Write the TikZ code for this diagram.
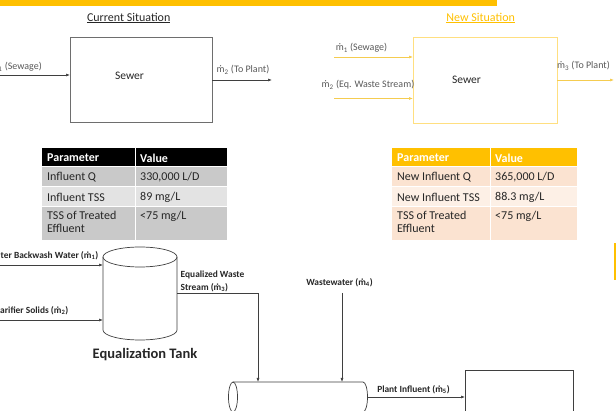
\documentclass[tikz,border=0pt]{standalone}
\usepackage{fontspec}
\setmainfont{Carlito}
\usetikzlibrary{arrows.meta, positioning}
\definecolor{gold}{HTML}{FFC000}
\definecolor{paleline}{HTML}{FFDF80}
\definecolor{palearrow}{HTML}{F5CC50}
\definecolor{linegray}{HTML}{3F3F3F}
\definecolor{boxgray}{HTML}{6E6E6E}
\definecolor{lbltext}{HTML}{595959}
\definecolor{darktext}{HTML}{262626}
\definecolor{celldark}{HTML}{C9C9C9}
\definecolor{celllight}{HTML}{E3E3E3}
\definecolor{peachdark}{HTML}{FBE3D1}
\definecolor{peachlight}{HTML}{FDF0E6}
\newcommand{\mdt}[1]{ṁ\textsubscript{#1}}
\tikzset{
  flow/.style={draw=linegray, line width=0.6pt, -{Latex[length=4pt,width=3pt]}},
  newflow/.style={flow, draw=palearrow},
  lbl/.style={font=\fontsize{10}{11}\selectfont, text=lbltext, inner sep=0pt},
  boldlbl/.style={font=\fontsize{9.4}{13}\selectfont\bfseries, text=darktext, inner sep=0pt, align=left},
  sewerbox/.style={draw=boxgray, line width=0.7pt, inner sep=0pt, outer sep=0pt},
  cell/.style={font=\fontsize{12}{13}\selectfont, text=darktext, inner sep=0pt, anchor=west, align=left},
  headcell/.style={cell, text=white, font=\fontsize{12}{13}\selectfont\bfseries},
  tank/.style={draw=linegray, line width=0.7pt}
}
\begin{document}
\begin{tikzpicture}[x=1pt, y=-1pt]
\useasboundingbox (0,0) rectangle (616,411);
\clip (0,0) rectangle (616,411);
\fill[gold] (0,0) rectangle (497,6.5);
\fill[gold] (613.5,243) rectangle (616,280);

\node[font=\fontsize{12}{14}\selectfont, text=darktext] (curtitle) at (128.7,18) {\underline{Current Situation}};
\node[sewerbox, minimum width=142pt, minimum height=85pt] (cursewer) at (141,79.5) {};
\node[font=\fontsize{11.5}{13}\selectfont, text=darktext] (curtxt) at (129.5,76) {Sewer};
\coordinate (curin) at (0,75);
\coordinate (curout) at (272,80);
\draw[flow] (curin) -- (curin -| cursewer.west);
\draw[flow] (cursewer.east |- curout) -- (curout);
\node[lbl, anchor=east] (curinlbl) at (42,67) {\mdt{1} (Sewage)};
\node[lbl, anchor=west] (curoutlbl) at (216.5,70) {\mdt{2} (To Plant)};

\node[font=\fontsize{12}{14}\selectfont, text=gold] (newtitle) at (480.7,18) {\underline{New Situation}};
\node[sewerbox, draw=paleline, minimum width=144pt, minimum height=86pt] (newsewer) at (485,80) {};
\node[font=\fontsize{11.5}{13}\selectfont, text=darktext] (newtxt) at (466.5,80) {Sewer};
\coordinate (newinA) at (334,57);
\coordinate (newinB) at (334,98.5);
\coordinate (newout) at (614,80);
\draw[newflow] (newinA) -- (newinA -| newsewer.west);
\draw[newflow] (newinB) -- (newinB -| newsewer.west);
\draw[newflow] (newsewer.east |- newout) -- (newout);
\node[lbl] (newinAlbl) at (361.5,48) {\mdt{1} (Sewage)};
\node[lbl] (newinBlbl) at (368,85) {\mdt{2} (Eq. Waste Stream)};
\node[lbl] (newoutlbl) at (583.5,66) {\mdt{3} (To Plant)};

\fill[black] (42,148) rectangle (227,167);
\fill[celldark] (42,167) rectangle (227,187);
\fill[celllight] (42,187) rectangle (227,207);
\fill[celldark] (42,207) rectangle (227,240);
\draw[white, line width=1pt] (135,148) -- (135,240)
  (42,167) -- (227,167) (42,187) -- (227,187) (42,207) -- (227,207);
\node[headcell] (curparam) at (47,158) {Parameter};
\node[headcell] (curvalue) at (140,158) {Value};
\node[cell] (curq) at (47,177.5) {Influent Q};
\node[cell] (curqv) at (140,177.5) {330,000 L/D};
\node[cell] (curtss) at (47,197.5) {Influent TSS};
\node[cell] (curtssv) at (140,197.5) {89 mg/L};
\node[cell, anchor=north west] (cureff) at (47,211) {TSS of Treated\\Effluent};
\node[cell, anchor=north west] (cureffv) at (140,211) {<75 mg/L};

\fill[gold] (392,148) rectangle (577,167);
\fill[peachdark] (392,167) rectangle (577,187);
\fill[peachlight] (392,187) rectangle (577,207);
\fill[peachdark] (392,207) rectangle (577,240);
\draw[white, line width=1pt] (490,148) -- (490,240)
  (392,167) -- (577,167) (392,187) -- (577,187) (392,207) -- (577,207);
\node[headcell] (newparam) at (397,158) {Parameter};
\node[headcell] (newvalue) at (495,158) {Value};
\node[cell] (newq) at (397,177.5) {New Influent Q};
\node[cell] (newqv) at (495,177.5) {365,000 L/D};
\node[cell] (newtss) at (397,197.5) {New Influent TSS};
\node[cell] (newtssv) at (495,197.5) {88.3 mg/L};
\node[cell, anchor=north west] (neweff) at (397,211) {TSS of Treated\\Effluent};
\node[cell, anchor=north west] (neweffv) at (495,211) {<75 mg/L};

\draw[tank] (103,257) -- (103,330) arc[start angle=180, end angle=360, x radius=37pt, y radius=10pt] -- (177,257);
\draw[tank] (140,257) ellipse[x radius=37pt, y radius=10pt];
\node[font=\fontsize{14.5}{16}\selectfont\bfseries, text=darktext] (tanklbl) at (145,355) {Equalization Tank};
\coordinate (bwin) at (0,265);
\coordinate (clin) at (0,320);
\coordinate (tankL) at (103,0);
\draw[flow] (bwin) -- (bwin -| tankL);
\draw[flow] (clin) -- (clin -| tankL);
\node[boldlbl, anchor=east] (bwlbl) at (98.5,256) {Filter Backwash Water (\mdt{1})};
\node[boldlbl, anchor=east] (cllbl) at (68.5,311) {Clarifier Solids (\mdt{2})};

\coordinate (tankR) at (177,293);
\coordinate (eqdrop) at (258,382);
\coordinate (wwtop) at (342,293);
\coordinate (wwdrop) at (342,382);
\draw[flow] (tankR) -| (eqdrop);
\draw[flow] (wwtop) -- (wwdrop);
\node[boldlbl, anchor=north west] (eqlbl) at (180.5,270.5) {Equalized Waste\\Stream (\mdt{3})};
\node[boldlbl] (wwlbl) at (339.5,283) {Wastewater (\mdt{4})};

\draw[tank] (233,397) ellipse[x radius=4.5pt, y radius=15pt];
\draw[tank] (233,382) -- (363,382) arc[start angle=90, end angle=-90, x radius=4.5pt, y radius=15pt] -- (233,412);
\coordinate (pipeR) at (367.5,397);
\node[sewerbox, draw=linegray, minimum width=108pt, minimum height=60pt, anchor=north west] (plant) at (465,370) {};
\draw[flow] (pipeR) -- (pipeR -| plant.west);
\node[boldlbl] (pilbl) at (413.5,390) {Plant Influent (\mdt{5})};
\end{tikzpicture}
\end{document}
